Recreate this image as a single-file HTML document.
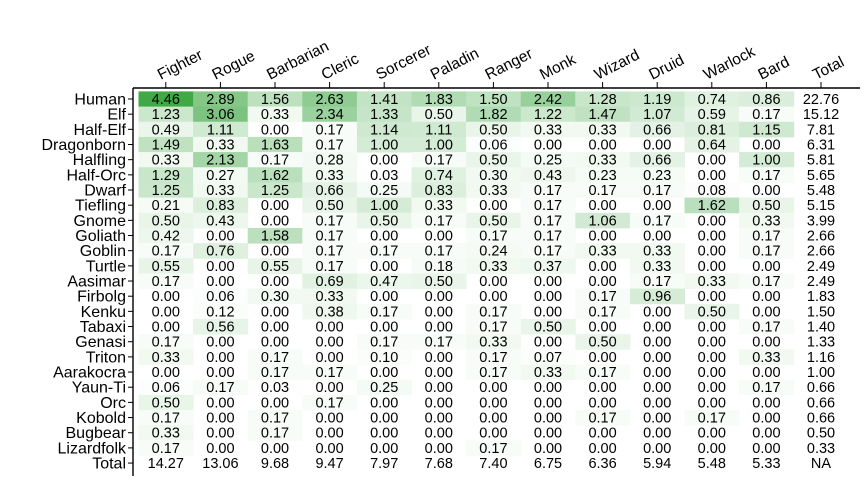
<!DOCTYPE html>
<html><head><meta charset="utf-8">
<style>
html,body{margin:0;padding:0;background:#fff;}
svg text{font-family:"Liberation Sans",Arial,sans-serif;font-size:14.5px;fill:#000;}
</style></head>
<body>
<svg id="chart" width="864" height="480" xmlns="http://www.w3.org/2000/svg">
<g id="cells"></g>
<g id="labels"></g>
<g id="xaxis"></g>
<g id="yaxis"></g>
</svg>
<script>
const classes = ["Fighter","Rogue","Barbarian","Cleric","Sorcerer","Paladin","Ranger","Monk","Wizard","Druid","Warlock","Bard","Total"];
const races = ["Human","Elf","Half-Elf","Dragonborn","Halfling","Half-Orc","Dwarf","Tiefling","Gnome","Goliath","Goblin","Turtle","Aasimar","Firbolg","Kenku","Tabaxi","Genasi","Triton","Aarakocra","Yaun-Ti","Orc","Kobold","Bugbear","Lizardfolk","Total"];
const values = [
[4.46,2.89,1.56,2.63,1.41,1.83,1.50,2.42,1.28,1.19,0.74,0.86,22.76],
[1.23,3.06,0.33,2.34,1.33,0.50,1.82,1.22,1.47,1.07,0.59,0.17,15.12],
[0.49,1.11,0.00,0.17,1.14,1.11,0.50,0.33,0.33,0.66,0.81,1.15,7.81],
[1.49,0.33,1.63,0.17,1.00,1.00,0.06,0.00,0.00,0.00,0.64,0.00,6.31],
[0.33,2.13,0.17,0.28,0.00,0.17,0.50,0.25,0.33,0.66,0.00,1.00,5.81],
[1.29,0.27,1.62,0.33,0.03,0.74,0.30,0.43,0.23,0.23,0.00,0.17,5.65],
[1.25,0.33,1.25,0.66,0.25,0.83,0.33,0.17,0.17,0.17,0.08,0.00,5.48],
[0.21,0.83,0.00,0.50,1.00,0.33,0.00,0.17,0.00,0.00,1.62,0.50,5.15],
[0.50,0.43,0.00,0.17,0.50,0.17,0.50,0.17,1.06,0.17,0.00,0.33,3.99],
[0.42,0.00,1.58,0.17,0.00,0.00,0.17,0.17,0.00,0.00,0.00,0.17,2.66],
[0.17,0.76,0.00,0.17,0.17,0.17,0.24,0.17,0.33,0.33,0.00,0.17,2.66],
[0.55,0.00,0.55,0.17,0.00,0.18,0.33,0.37,0.00,0.33,0.00,0.00,2.49],
[0.17,0.00,0.00,0.69,0.47,0.50,0.00,0.00,0.00,0.17,0.33,0.17,2.49],
[0.00,0.06,0.30,0.33,0.00,0.00,0.00,0.00,0.17,0.96,0.00,0.00,1.83],
[0.00,0.12,0.00,0.38,0.17,0.00,0.17,0.00,0.17,0.00,0.50,0.00,1.50],
[0.00,0.56,0.00,0.00,0.00,0.00,0.17,0.50,0.00,0.00,0.00,0.17,1.40],
[0.17,0.00,0.00,0.00,0.17,0.17,0.33,0.00,0.50,0.00,0.00,0.00,1.33],
[0.33,0.00,0.17,0.00,0.10,0.00,0.17,0.07,0.00,0.00,0.00,0.33,1.16],
[0.00,0.00,0.17,0.17,0.00,0.00,0.17,0.33,0.17,0.00,0.00,0.00,1.00],
[0.06,0.17,0.03,0.00,0.25,0.00,0.00,0.00,0.00,0.00,0.00,0.17,0.66],
[0.50,0.00,0.00,0.17,0.00,0.00,0.00,0.00,0.00,0.00,0.00,0.00,0.66],
[0.17,0.00,0.17,0.00,0.00,0.00,0.00,0.00,0.17,0.00,0.17,0.00,0.66],
[0.33,0.00,0.17,0.00,0.00,0.00,0.00,0.00,0.00,0.00,0.00,0.00,0.50],
[0.17,0.00,0.00,0.00,0.00,0.00,0.17,0.00,0.00,0.00,0.00,0.00,0.33],
[14.27,13.06,9.68,9.47,7.97,7.68,7.40,6.75,6.36,5.94,5.48,5.33,null]
];
const colorMax = 4.46;

const NS="http://www.w3.org/2000/svg";
const x0=138.5, cw=54.6, y0=91.4, rh=15.17;
function xPos(i){return x0+i*cw;}
function yPos(j){return y0+j*rh;}
function color(v){
  const t=Math.max(0,Math.min(1,v/colorMax));
  const r=Math.round(255-t*190), g=Math.round(255-t*87), b=Math.round(255-t*185);
  return `rgb(${r},${g},${b})`;
}
function mk(tag,attrs,parent){const e=document.createElementNS(NS,tag);for(const k in attrs)e.setAttribute(k,attrs[k]);parent.appendChild(e);return e;}
const cells=document.getElementById('cells'), labels=document.getElementById('labels');
const xa=document.getElementById('xaxis'), ya=document.getElementById('yaxis');
const nr=races.length, nc=classes.length;
for(let j=0;j<nr;j++){
  for(let i=0;i<nc;i++){
    const v=values[j][i];
    const isTotal=(j===nr-1||i===nc-1);
    if(!isTotal && v>0){
      const r=mk('rect',{x:xPos(i),y:yPos(j),width:cw+0.5,height:rh+0.5,fill:color(v)},cells);
      
      
    }
    const t=mk('text',{x:xPos(i)+cw/2,y:yPos(j)+rh/2+5,'text-anchor':'middle'},labels);
    t.textContent = v===null ? 'NA' : v.toFixed(2);
    
    
  }
}
const axTop=88, axLeft=133;
let l=mk('line',{x1:axLeft,y1:axTop,x2:860,y2:axTop,stroke:'#000','stroke-width':1.4},xa);


l=mk('line',{x1:axLeft,y1:axTop,x2:axLeft,y2:476,stroke:'#000','stroke-width':1.4},ya);


for(let i=0;i<nc;i++){
  const cx=xPos(i)+cw/2;
  mk('line',{x1:cx,y1:axTop,x2:cx,y2:axTop-6,stroke:'#000','stroke-width':1},xa);
  const t=mk('text',{x:0,y:0,transform:`translate(${cx-5},${axTop-8}) rotate(-27)`,style:'font-size:15.5px'},xa);
  t.textContent=classes[i];
  
  
}
for(let j=0;j<nr;j++){
  const cy=yPos(j)+rh/2;
  mk('line',{x1:axLeft-5,y1:cy,x2:axLeft,y2:cy,stroke:'#000','stroke-width':1},ya);
  const t=mk('text',{x:axLeft-7,y:cy+5.5,'text-anchor':'end',style:'font-size:16px'},ya);
  t.textContent=races[j];
  
  
}
</script>
</body></html>
